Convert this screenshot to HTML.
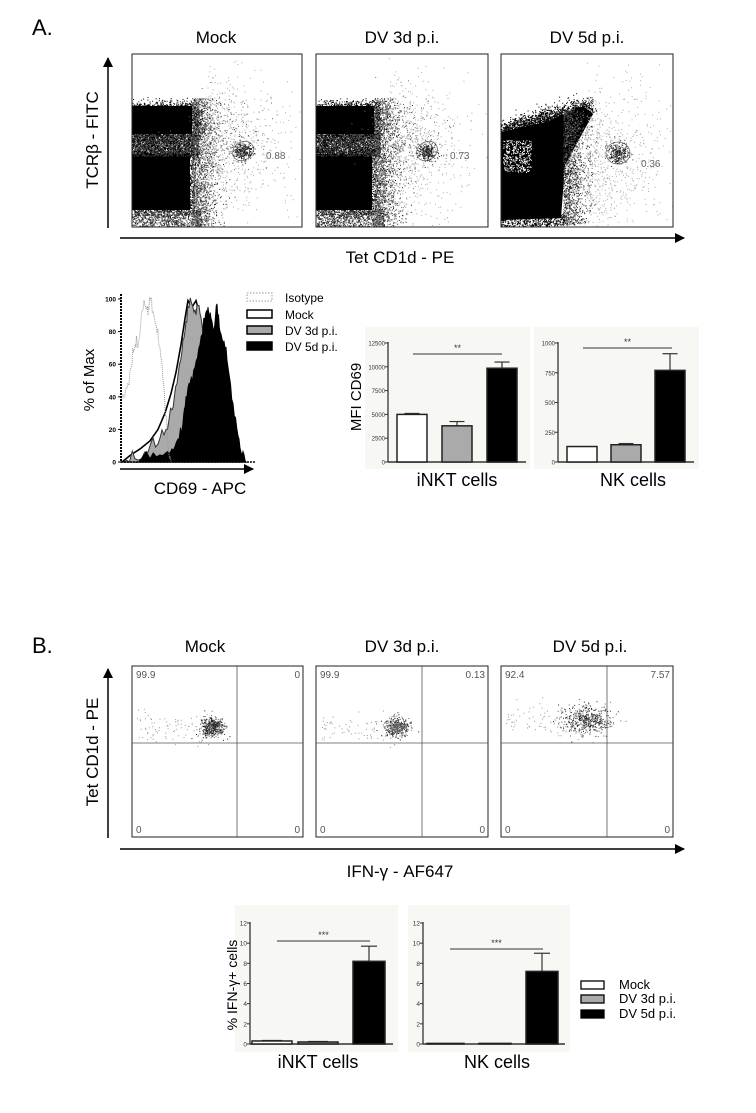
<!DOCTYPE html>
<html><head><meta charset="utf-8"><style>
html,body{margin:0;padding:0;background:#fff;}
svg{display:block;font-family:"Liberation Sans",sans-serif;}
</style></head><body>
<svg id="s" width="756" height="1113" viewBox="0 0 756 1113" xmlns="http://www.w3.org/2000/svg">
<defs>
<marker id="ah" markerWidth="10" markerHeight="10" refX="9" refY="5" orient="auto" markerUnits="userSpaceOnUse"><path d="M0,0 L10,5 L0,10 z" fill="#000"/></marker>
<clipPath id="c1"><rect x="132" y="54" width="170" height="173"/></clipPath>
<clipPath id="c2"><rect x="316" y="54" width="172" height="173"/></clipPath>
<clipPath id="c3"><rect x="501" y="54" width="172" height="173"/></clipPath>
</defs>

<text x="32" y="35" font-size="22">A.</text>
<text x="216" y="43" font-size="17" text-anchor="middle">Mock</text>
<text x="402" y="43" font-size="17" text-anchor="middle">DV 3d p.i.</text>
<text x="587" y="43" font-size="17" text-anchor="middle">DV 5d p.i.</text>
<g id="dA1" clip-path="url(#c1)"></g>
<g id="dA2" clip-path="url(#c2)"></g>
<g id="dA3" clip-path="url(#c3)"></g>
<rect x="132" y="54" width="170" height="173" fill="none" stroke="#222" stroke-width="1"/>
<rect x="316" y="54" width="172" height="173" fill="none" stroke="#222" stroke-width="1"/>
<rect x="501" y="54" width="172" height="173" fill="none" stroke="#222" stroke-width="1"/>
<text x="266" y="159" font-size="10" fill="#666">0.88</text>
<text x="450" y="159" font-size="10" fill="#666">0.73</text>
<text x="641" y="167" font-size="10" fill="#666">0.36</text>
<line x1="108" y1="228" x2="108" y2="58" stroke="#000" stroke-width="1.5" marker-end="url(#ah)"/>
<line x1="120" y1="238" x2="684" y2="238" stroke="#000" stroke-width="1.5" marker-end="url(#ah)"/>
<text transform="translate(98,140) rotate(-90)" font-size="17" text-anchor="middle">TCRβ - FITC</text>
<text x="400" y="263" font-size="17" text-anchor="middle">Tet CD1d - PE</text>

<g id="hist"></g>
<line x1="120" y1="469" x2="253" y2="469" stroke="#000" stroke-width="1.5" marker-end="url(#ah)"/>
<text transform="translate(94,380) rotate(-90)" font-size="15" text-anchor="middle">% of Max</text>
<text x="200" y="494" font-size="17" text-anchor="middle">CD69 - APC</text>
<g font-size="12">
<rect x="247" y="293" width="25" height="8" fill="none" stroke="#999" stroke-dasharray="1.5,1.5"/>
<text x="285" y="302">Isotype</text>
<rect x="247" y="310" width="25" height="8" fill="#fff" stroke="#000" stroke-width="1.5"/>
<text x="285" y="319">Mock</text>
<rect x="247" y="326" width="25" height="8" fill="#aaa" stroke="#000" stroke-width="1.5"/>
<text x="285" y="335">DV 3d p.i.</text>
<rect x="247" y="342" width="25" height="8" fill="#000" stroke="#000" stroke-width="1.5"/>
<text x="285" y="351">DV 5d p.i.</text>
</g>

<g id="barsA"></g>
<g id="plotsB"></g>
<g id="barsB"></g>

<text x="32" y="653" font-size="22">B.</text>
<text x="205" y="652" font-size="17" text-anchor="middle">Mock</text>
<text x="402" y="652" font-size="17" text-anchor="middle">DV 3d p.i.</text>
<text x="590" y="652" font-size="17" text-anchor="middle">DV 5d p.i.</text>
<line x1="108" y1="838" x2="108" y2="669" stroke="#000" stroke-width="1.5" marker-end="url(#ah)"/>
<line x1="120" y1="849" x2="684" y2="849" stroke="#000" stroke-width="1.5" marker-end="url(#ah)"/>
<text transform="translate(98,752) rotate(-90)" font-size="17" text-anchor="middle">Tet CD1d - PE</text>
<text x="400" y="877" font-size="17" text-anchor="middle">IFN-γ - AF647</text>

<g font-size="13">
<rect x="581" y="981" width="23" height="8" fill="#fff" stroke="#000" stroke-width="1.3"/>
<text x="619" y="989">Mock</text>
<rect x="581" y="995" width="23" height="8" fill="#aaa" stroke="#000" stroke-width="1.3"/>
<text x="619" y="1003">DV 3d p.i.</text>
<rect x="581" y="1010" width="23" height="8" fill="#000" stroke="#000" stroke-width="1.3"/>
<text x="619" y="1018">DV 5d p.i.</text>
</g>
</svg>
<script>
(function(){
var NS="http://www.w3.org/2000/svg";
function el(p,t,a,txt){var e=document.createElementNS(NS,t);for(var k in a)e.setAttribute(k,a[k]);if(txt!=null)e.textContent=txt;p.appendChild(e);return e;}
var seed=12345;function R(){seed|=0;seed=seed+0x6D2B79F5|0;var t=Math.imul(seed^seed>>>15,1|seed);t=t+Math.imul(t^t>>>7,61|t)^t;return((t^t>>>14)>>>0)/4294967296;}
function G(){var u=R()||1e-9,v=R();return Math.sqrt(-2*Math.log(u))*Math.cos(2*Math.PI*v);}
function Dots(g){this.g=g;this.p={};}
Dots.prototype.add=function(x,y,c,s){s=s||1;(this.p[c]=this.p[c]||[]).push("M"+x.toFixed(1)+" "+y.toFixed(1)+"h"+s+"v"+s+"h-"+s+"z");};
Dots.prototype.flush=function(){for(var c in this.p)el(this.g,"path",{d:this.p[c].join(""),fill:c});};
var $=function(id){return document.getElementById(id);};

function panelA(id,L,v){
  var g=$(id), d=new Dots(g), i, x, y;
  if(v<2){
    var bw=v==0?66:64;
    el(g,"rect",{x:L,y:106,width:bw-6,height:28,fill:"#000"});
    el(g,"rect",{x:L,y:154,width:bw-8,height:56,fill:"#000"});
    for(i=0;i<2500;i++){x=L+R()*bw+(R()<0.4?Math.abs(G())*8:0);y=104+R()*32+G()*3;d.add(x,y,"#000");}
    for(i=0;i<2600;i++){x=L+R()*bw;y=134+R()*22;d.add(x,y,R()<0.75?"#000":"#444");}
    for(i=0;i<2600;i++){x=L+R()*(bw-4)+(R()<0.4?Math.abs(G())*8:0);y=150+R()*64+G()*3;d.add(x,y,"#000");}
    for(i=0;i<900;i++){x=L+R()*(bw+4);y=210+R()*18;d.add(x,y,R()<0.6?"#222":"#888");}
    for(i=0;i<1500;i++){x=L+bw-6+Math.abs(G())*13;y=98+R()*128;d.add(x,y,R()<0.5?"#222":"#777");}
    for(i=0;i<600;i++){x=L+72+Math.abs(G())*40;y=150+G()*38;d.add(x,y,"#aaa");}
    for(i=0;i<200;i++){x=L+90+G()*22;y=135+G()*18;d.add(x,y,"#666");}
    for(i=0;i<260;i++){x=L+111+G()*4.5;y=151+G()*4;d.add(x,y,"#222");}
    el(g,"ellipse",{cx:L+111,cy:151,rx:11,ry:9,fill:"none",stroke:"#666","stroke-width":0.8,transform:"rotate(-35 "+(L+111)+" 151)"});
  } else {
    el(g,"path",{d:"M"+L+",132 L"+(L+45)+",122 L"+(L+82)+",106 L"+(L+92)+",114 L"+(L+64)+",165 L"+(L+60)+",218 L"+L+",220 z",fill:"#000"});
    for(i=0;i<350;i++){x=L+2+R()*28;y=140+R()*32;d.add(x,y,"#fff",1);}
    for(i=0;i<1600;i++){var t=R();x=L+t*90+G()*3;y=130-t*24+G()*5;d.add(x,y,"#000");}
    for(i=0;i<1500;i++){x=L+62+Math.abs(G())*12;y=110+R()*115;d.add(x,y,R()<0.5?"#222":"#888");}
    for(i=0;i<500;i++){x=L+R()*64;y=214+R()*12;d.add(x,y,"#000");}
    for(i=0;i<700;i++){x=L+85+Math.abs(G())*40;y=165+G()*40;d.add(x,y,"#aaa");}
    for(i=0;i<260;i++){x=L+117+G()*5;y=153+G()*5;d.add(x,y,"#222");}
    el(g,"ellipse",{cx:L+117,cy:153,rx:12,ry:11,fill:"none",stroke:"#666","stroke-width":0.8});
  }
  d.flush();
}
panelA("dA1",132,0);panelA("dA2",316,1);panelA("dA3",501,2);

(function(){
 var g=$("hist");var Y=function(p){return 462-p*1.63;};
 function path(pts,close){var s="M"+pts[0][0]+","+Y(pts[0][1]);for(var i=1;i<pts.length;i++)s+=" L"+pts[i][0]+","+Y(pts[i][1]);return s+(close?" z":"");}
 function jag(pts){var o=[];for(var i=0;i<pts.length-1;i++){var a=pts[i],b=pts[i+1];for(var k=0;k<4;k++){var t=k/4;o.push([a[0]+(b[0]-a[0])*t,Math.max(0,a[1]+(b[1]-a[1])*t+(k?G()*2.5:0))]);}}o.push(pts[pts.length-1]);return o;}
 var iso=jag([[121,38],[124,40],[128,48],[132,60],[135,72],[138,70],[141,88],[145,96],[148,90],[150,99],[153,92],[157,80],[160,70],[163,50],[166,28],[168,10],[171,0]]);
 var mock=[[122,0],[130,4],[140,8],[150,13],[158,20],[165,30],[171,42],[176,55],[181,72],[185,88],[188,99],[192,95],[196,99],[199,92],[205,72],[212,45],[222,20],[235,5],[245,0]];
 var dv3=[[124,0],[135,2],[148,6],[158,11],[166,20],[172,32],[177,48],[182,68],[186,86],[189,95],[194,92],[198,96],[202,84],[207,62],[215,35],[228,10],[242,0]];
 var dv5=[[135,0],[150,2],[163,4],[172,8],[178,14],[183,24],[186,40],[190,48],[195,58],[200,72],[205,88],[208,95],[211,88],[214,82],[217,97],[220,80],[224,74],[228,58],[233,36],[238,16],[242,4],[246,0]];
 el(g,"path",{d:path(mock,true),fill:"#fff",stroke:"#000","stroke-width":1.6});
 el(g,"path",{d:path(jag(dv3),true),fill:"#aaa",stroke:"#333","stroke-width":1});
 el(g,"path",{d:path(jag(dv5),true),fill:"#000",stroke:"#000","stroke-width":1});
 el(g,"path",{d:path(iso,false),fill:"none",stroke:"#999","stroke-width":1,"stroke-dasharray":"1,1"});
 el(g,"line",{x1:121,y1:462,x2:255,y2:462,stroke:"#000","stroke-width":1.5,"stroke-dasharray":"2,1"});
 el(g,"line",{x1:121,y1:294,x2:121,y2:462,stroke:"#000","stroke-width":2,"stroke-dasharray":"2,1"});
 [0,20,40,60,80,100].forEach(function(v){var y=Y(v);el(g,"line",{x1:118,y1:y,x2:121,y2:y,stroke:"#000"});el(g,"text",{x:116,y:y+2.5,"font-size":6.5,"font-weight":"bold","text-anchor":"end"},v);});
})();

function barChart(g,o){
 el(g,"rect",{x:o.bx,y:o.by,width:o.bw,height:o.bh,fill:"#f7f7f4"});
 var Y=function(v){return o.y0-(o.y0-o.y1)*v/o.max;};
 o.ticks.forEach(function(t){var y=Y(t);el(g,"line",{x1:o.ax-3,y1:y,x2:o.ax,y2:y,stroke:"#333"});el(g,"text",{x:o.ax-3,y:y+2.5,"font-size":o.tf,"text-anchor":"end",fill:"#333"},t);});
 el(g,"line",{x1:o.ax,y1:o.y1-1,x2:o.ax,y2:o.y0,stroke:"#333","stroke-width":1.3});
 el(g,"line",{x1:o.ax,y1:o.y0,x2:o.ae,y2:o.y0,stroke:"#333","stroke-width":1.5});
 var fills=["#fff","#aaa","#000"];
 o.bars.forEach(function(b,i){var y=Y(b[2]);
  if(b[3]!=null){var ye=Y(b[3]),cx=(b[0]+b[1])/2;el(g,"line",{x1:cx,y1:y,x2:cx,y2:ye,stroke:"#333","stroke-width":1.2});el(g,"line",{x1:cx-(b[1]-b[0])/4,y1:ye,x2:cx+(b[1]-b[0])/4,y2:ye,stroke:"#333","stroke-width":1.2});}
  el(g,"rect",{x:b[0],y:y,width:b[1]-b[0],height:o.y0-y,fill:fills[i],stroke:"#222","stroke-width":1.5});});
 el(g,"line",{x1:o.s[0],y1:o.s[2],x2:o.s[1],y2:o.s[2],stroke:"#333","stroke-width":1});
 el(g,"text",{x:(o.s[0]+o.s[1])/2,y:o.s[2]-3,"font-size":9,"text-anchor":"middle",fill:"#333"},o.star);
 el(g,"text",{x:o.lx,y:o.ly,"font-size":18,"text-anchor":"middle"},o.label);
}
var gA=$("barsA");
barChart(gA,{bx:365,by:327,bw:165,bh:142,ax:388,ae:526,y0:462,y1:343,max:12500,ticks:[0,2500,5000,7500,10000,12500],tf:6,
 bars:[[397,427,5000,5100],[442,472,3800,4250],[487,517,9850,10500]],s:[413,502,354],star:"**",label:"iNKT cells",lx:457,ly:486});
barChart(gA,{bx:534,by:327,bw:165,bh:142,ax:558,ae:694,y0:462,y1:343,max:1000,ticks:[0,250,500,750,1000],tf:6,
 bars:[[567,597,130,null],[611,641,145,155],[655,685,770,910]],s:[583,672,348],star:"**",label:"NK cells",lx:633,ly:486});
el(gA,"text",{transform:"translate(361,397) rotate(-90)","font-size":15,"text-anchor":"middle"},"MFI CD69");

var gB=$("barsB");
barChart(gB,{bx:235,by:905,bw:163,bh:147,ax:250,ae:393,y0:1044,y1:923,max:12,ticks:[0,2,4,6,8,10,12],tf:6.5,
 bars:[[252,292,0.3,0.35],[298,338,0.2,0.25],[353,385,8.2,9.7]],s:[277,370,941],star:"***",label:"iNKT cells",lx:318,ly:1068});
barChart(gB,{bx:408,by:905,bw:162,bh:147,ax:423,ae:565,y0:1044,y1:923,max:12,ticks:[0,2,4,6,8,10,12],tf:6.5,
 bars:[[427,464,0.06,null],[479,511,0.06,null],[526,558,7.2,9.0]],s:[450,543,949],star:"***",label:"NK cells",lx:497,ly:1068});
el(gB,"text",{transform:"translate(237,985) rotate(-90)","font-size":14,"text-anchor":"middle"},"% IFN-γ+ cells");

var gP=$("plotsB");
function panelB(L,W,vx,labels,cx,cy,sx,sy,n){
 var d=new Dots(gP),i;
 for(i=0;i<n;i++){var x=cx+G()*sx,y=cy+G()*sy;d.add(x,y,R()<0.5?"#222":"#666");}
 for(i=0;i<Math.floor(n/5);i++){var x=L+5+R()*(cx-L),y=cy+G()*8;d.add(x,y,"#999");}
 d.flush();
 el(gP,"rect",{x:L,y:666,width:W,height:171,fill:"none",stroke:"#222","stroke-width":1});
 el(gP,"line",{x1:vx,y1:666,x2:vx,y2:837,stroke:"#555","stroke-width":0.8});
 el(gP,"line",{x1:L,y1:743,x2:L+W,y2:743,stroke:"#555","stroke-width":0.8});
 el(gP,"text",{x:L+4,y:678,"font-size":10,fill:"#555"},labels[0]);
 el(gP,"text",{x:L+W-3,y:678,"font-size":10,fill:"#555","text-anchor":"end"},labels[1]);
 el(gP,"text",{x:L+4,y:833,"font-size":10,fill:"#555"},labels[2]);
 el(gP,"text",{x:L+W-3,y:833,"font-size":10,fill:"#555","text-anchor":"end"},labels[3]);
}
panelB(132,171,237,["99.9","0","0","0"],212,727,6,5,450);
panelB(316,172,422,["99.9","0.13","0","0"],396,727,6,5,420);
panelB(501,172,607,["92.4","7.57","0","0"],587,720,12,7,500);
})();
</script>
</body></html>
